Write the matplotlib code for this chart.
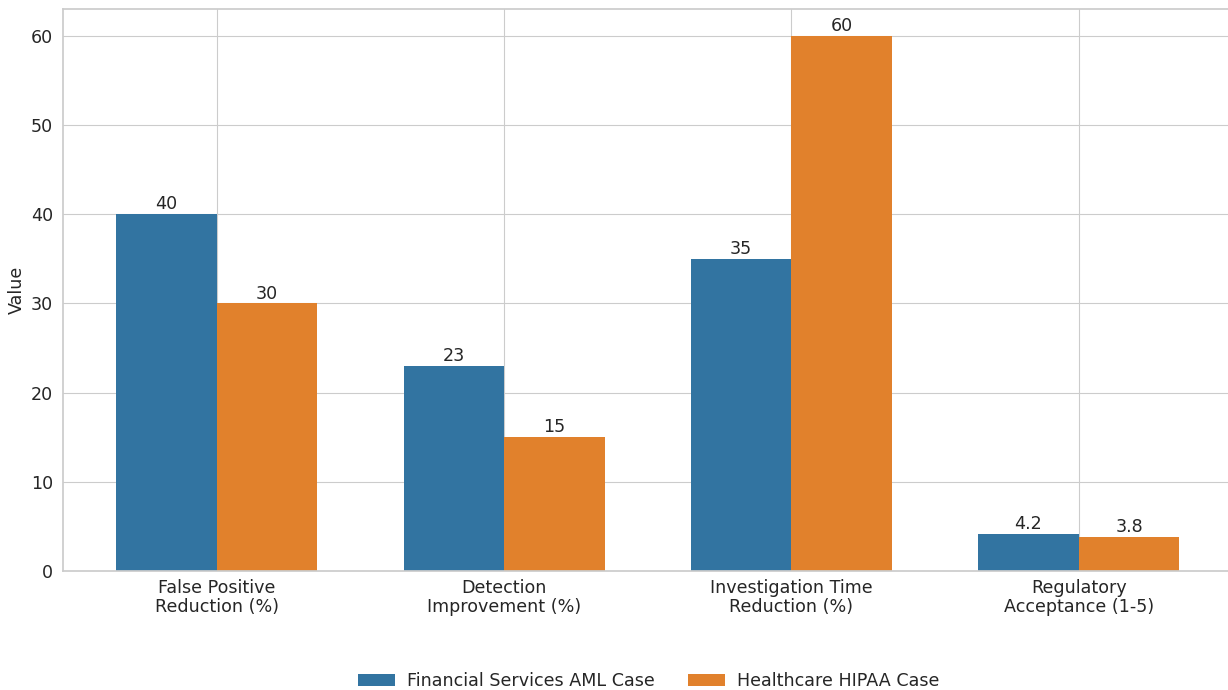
import matplotlib
matplotlib.use("Agg")
import matplotlib.pyplot as plt
import numpy as np
import seaborn as sns

categories = ["False Positive\nReduction (%)", "Detection\nImprovement (%)",
              "Investigation Time\nReduction (%)", "Regulatory\nAcceptance (1-5)"]
series_names = ["Financial Services AML Case", "Healthcare HIPAA Case"]
aml_values = [40, 23, 35, 4.2]
hipaa_values = [30, 15, 60, 3.8]
value_labels_aml = ["40", "23", "35", "4.2"]
value_labels_hipaa = ["30", "15", "60", "3.8"]

sns.set_style("whitegrid")
plt.rcParams['font.family'] = ['DejaVu Sans']

FS = 12.6
fig = plt.figure(figsize=(12.28, 6.90), dpi=100)
ax = fig.add_axes([63/1228, (690-571)/690, (1232.5-63)/1228, (571-9)/690])

x = np.arange(len(categories))
w = 0.35
c1, c2 = "#3274a1", "#e1812c"
b1 = ax.bar(x - w/2, aml_values, w, color=c1, edgecolor="none", label=series_names[0])
b2 = ax.bar(x + w/2, hipaa_values, w, color=c2, edgecolor="none", label=series_names[1])

for bars, labels in ((b1, value_labels_aml), (b2, value_labels_hipaa)):
    for rect, lab in zip(bars, labels):
        ax.annotate(lab, (rect.get_x() + rect.get_width()/2, rect.get_height()),
                    xytext=(0, 0.5), textcoords="offset points",
                    ha="center", va="bottom", fontsize=FS, color="#262626")

ax.set_xticks(x)
ax.set_xticklabels(categories, fontsize=FS, color="#262626", linespacing=1.05)
ax.tick_params(axis='x', pad=2.5)
ax.tick_params(axis='y', labelsize=FS, colors="#262626")
ax.set_ylabel("Value", fontsize=FS, color="#262626")
ax.set_yticks([0, 10, 20, 30, 40, 50, 60])
ax.set_ylim(0, 63)
ax.set_xlim(-0.535, 3.535)
for s in ax.spines.values():
    s.set_color("#cccccc")
    s.set_linewidth(1.25)

ax.legend(loc="upper center", bbox_to_anchor=(0.5 * (1228-63) / (1232.5-63) + 0.003, -0.152),
          ncol=2, frameon=False, fontsize=FS, columnspacing=1.9,
          handlelength=2.1, handletextpad=0.7)

fig.savefig("out.png", dpi=100)
